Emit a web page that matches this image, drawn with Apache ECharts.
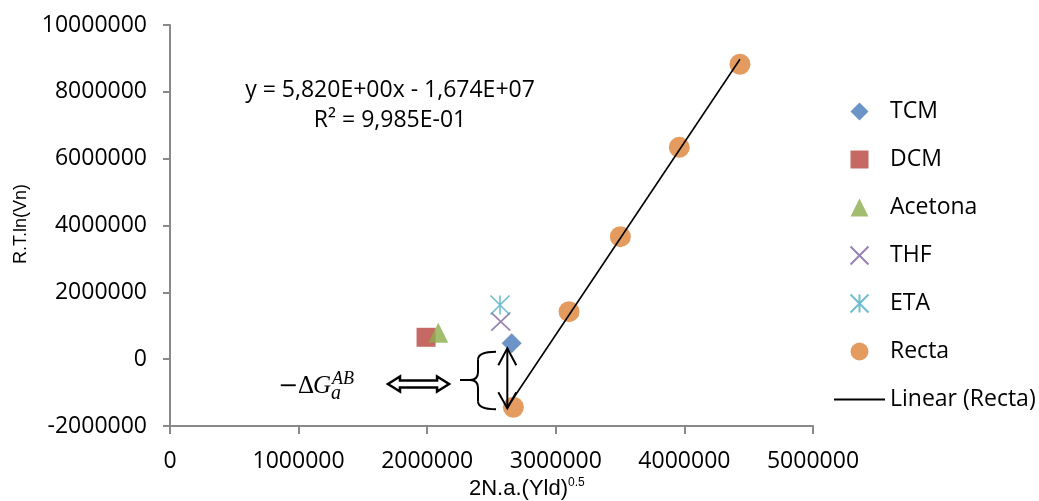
<!DOCTYPE html>
<html>
<head>
<meta charset="utf-8">
<script src="https://cdn.jsdelivr.net/npm/echarts@6/dist/echarts.min.js"></script>
<style>
  html, body { margin: 0; padding: 0; background: #fff; }
  #chart { width: 1039px; height: 501px; }
</style>
</head>
<body>
<div id="chart"></div>
<script>
// Points (x = 2N.a.(Yld)^0.5, y = R.T.ln(Vn))
const tcmX = [2657000];
const tcmY = [476000];
const dcmX = [1991000];
const dcmY = [655000];
const acetonaX = [2086000];
const acetonaY = [793000];
const thfX = [2572000];
const thfY = [1122000];
const etaX = [2566000];
const etaY = [1622000];
const rectaX = [2670000, 3103000, 3502000, 3960000, 4432000];
const rectaY = [-1439000, 1421000, 3665000, 6340000, 8824000];

// Linear trendline ends, as drawn
const trendX = [2618000, 4432000];
const trendY = [-1469000, 8974000];

const eqLines = ['y = 5,820E+00x - 1,674E+07', 'R² = 9,985E-01'];

// Hand-drawn annotation anchors, in data units
const eqAnchor = [1711000, 8052000];
const vArrow = [2623000, 326000, -1469000];           // x, top, bottom
const braceX = [2255000, 2395000, 2535000];           // tip, spine, ends
const braceY = [224000, -623000, -1499000];           // top, middle, bottom
const dblArrowX = [1695000, 2170000];
const dblArrowY = -742000;
const labelAnchor = [855000, -1041000];

const C = {
  tcm: '#4779B8', dcm: '#B8443F', acetona: '#8CAD4C',
  thf: '#7E63A0', eta: '#4BACC6', recta: '#DD8237',
  axis: '#898989', text: '#000'
};
const SANS = '"Open Sans", sans-serif';

// marker shapes as paths so the legend keeps their aspect
const SYM = {
  diamond: 'path://M5,0L10,5L5,10L0,5Z',
  square: 'path://M0,0L10,0L10,10L0,10Z',
  triangle: 'path://M5,0L10,10L0,10Z',
  circle: 'path://M0,5A5,5 0 1,1 10,5A5,5 0 1,1 0,5Z',
  cross: 'path://M0,0L10,10M10,0L0,10',
  star: 'path://M0,0L10,10M10,0L0,10M5,0L5,10'
};

const zip = (xs, ys) => xs.map((x, i) => [x, ys[i]]);

const chart = echarts.init(document.getElementById('chart'), null, { renderer: 'canvas' });

const option = {
  backgroundColor: '#fff',
  animation: false,
  grid: { left: 170, right: 226, top: 25, bottom: 75 },
  legend: {
    orient: 'vertical',
    left: 833,
    top: 100,
    padding: 0,
    itemWidth: 51,
    itemHeight: 18,
    itemGap: 25,
    symbolKeepAspect: true,
    textStyle: { fontFamily: SANS, fontSize: 23, color: C.text },
    data: ['TCM', 'DCM', 'Acetona', 'THF', 'ETA', 'Recta',
      { name: 'Linear (Recta)', itemStyle: { opacity: 0 } }]
  },
  xAxis: {
    type: 'value', min: 0, max: 5000000, interval: 1000000,
    axisLine: { show: true, onZero: false, lineStyle: { color: C.axis, width: 2 } },
    axisTick: { show: true, length: 8, lineStyle: { color: C.axis, width: 2 } },
    axisLabel: { margin: 24, fontFamily: SANS, fontSize: 23, color: C.text, formatter: v => String(v) },
    splitLine: { show: false }
  },
  yAxis: {
    type: 'value', min: -2000000, max: 10000000, interval: 2000000,
    axisLine: { show: true, onZero: false, lineStyle: { color: C.axis, width: 2 } },
    axisTick: { show: true, length: 7, lineStyle: { color: C.axis, width: 2 } },
    axisLabel: { margin: 23, fontFamily: SANS, fontSize: 23, color: C.text, padding: [3, 0, 0, 0],
      formatter: v => String(v) },
    splitLine: { show: false }
  },
  series: [
    { name: 'TCM', type: 'scatter', data: zip(tcmX, tcmY), symbol: SYM.diamond, symbolSize: 20,
      symbolKeepAspect: true, itemStyle: { color: C.tcm } },
    { name: 'DCM', type: 'scatter', data: zip(dcmX, dcmY), symbol: SYM.square, symbolSize: 19,
      symbolKeepAspect: true, itemStyle: { color: C.dcm } },
    { name: 'Acetona', type: 'scatter', data: zip(acetonaX, acetonaY), symbol: SYM.triangle, symbolSize: 20,
      symbolKeepAspect: true, itemStyle: { color: C.acetona } },
    { name: 'THF', type: 'scatter', data: zip(thfX, thfY), symbol: SYM.cross, symbolSize: [19, 18],
      symbolKeepAspect: true,
      itemStyle: { color: 'rgba(0,0,0,0)', borderColor: C.thf, borderWidth: 1.6 } },
    { name: 'ETA', type: 'scatter', data: zip(etaX, etaY), symbol: SYM.star, symbolSize: [19, 19],
      symbolKeepAspect: true,
      itemStyle: { color: 'rgba(0,0,0,0)', borderColor: C.eta, borderWidth: 1.6 } },
    { name: 'Recta', type: 'scatter', data: zip(rectaX, rectaY), symbol: SYM.circle, symbolSize: 21,
      symbolKeepAspect: true, itemStyle: { color: C.recta } },
    { name: 'Linear (Recta)', type: 'line', data: zip(trendX, trendY), symbol: 'none', z: 5,
      color: '#000', lineStyle: { color: '#000', width: 1.6 } }
  ]
};

chart.setOption(option);

// annotations: placed from data anchors through the chart's own scales
const px = (x, y) => chart.convertToPixel({ xAxisIndex: 0, yAxisIndex: 0 }, [x, y]);
const ink = { stroke: '#000', lineWidth: 2, fill: null };
const graphic = [];

// trendline equation and R²
const eq = px(eqAnchor[0], eqAnchor[1]);
eqLines.forEach((t, i) => {
  graphic.push({ type: 'text', x: eq[0], y: eq[1] + i * 30, z: 100,
    style: { text: t, fontFamily: SANS, fontSize: 23, fill: C.text, align: 'center', verticalAlign: 'middle' } });
});

// vertical double arrow between TCM and the line
const aTop = px(vArrow[0], vArrow[1]);
const aBot = px(vArrow[0], vArrow[2]);
graphic.push(
  { type: 'line', z: 100, shape: { x1: aTop[0], y1: aTop[1], x2: aBot[0], y2: aBot[1] }, style: ink },
  { type: 'polyline', z: 100, shape: { points: [[aTop[0] - 9, aTop[1] + 17], [aTop[0], aTop[1]], [aTop[0] + 9, aTop[1] + 17]] }, style: ink },
  { type: 'polyline', z: 100, shape: { points: [[aBot[0] - 9, aBot[1] - 16], [aBot[0], aBot[1]], [aBot[0] + 9, aBot[1] - 16]] }, style: ink }
);

// curly brace
const bt = px(braceX[2], braceY[0]);
const bm = px(braceX[1], braceY[1]);
const bb = px(braceX[2], braceY[2]);
const tip = px(braceX[0], braceY[1])[0];
const xl = bm[0], xr = bt[0], r = 8;
graphic.push(
  { type: 'bezierCurve', z: 100, shape: { x1: xr, y1: bt[1], cpx1: xl, cpy1: bt[1], x2: xl, y2: bt[1] + r }, style: ink },
  { type: 'line', z: 100, shape: { x1: xl, y1: bt[1] + r, x2: xl, y2: bm[1] - r }, style: ink },
  { type: 'bezierCurve', z: 100, shape: { x1: xl, y1: bm[1] - r, cpx1: xl, cpy1: bm[1], x2: xl - r, y2: bm[1] }, style: ink },
  { type: 'line', z: 100, shape: { x1: xl - r, y1: bm[1], x2: tip, y2: bm[1] }, style: ink },
  { type: 'bezierCurve', z: 100, shape: { x1: xl - r, y1: bm[1], cpx1: xl, cpy1: bm[1], x2: xl, y2: bm[1] + r }, style: ink },
  { type: 'line', z: 100, shape: { x1: xl, y1: bm[1] + r, x2: xl, y2: bb[1] - r }, style: ink },
  { type: 'bezierCurve', z: 100, shape: { x1: xl, y1: bb[1] - r, cpx1: xl, cpy1: bb[1], x2: xr, y2: bb[1] }, style: ink }
);

// hollow double arrow
const d0 = px(dblArrowX[0], dblArrowY);
const d1 = px(dblArrowX[1], dblArrowY);
const yc = d0[1], h = 12, H = 7.5, s = 3.5;
graphic.push({ type: 'polygon', z: 100,
  shape: { points: [
    [d0[0], yc], [d0[0] + h, yc - H], [d0[0] + h, yc - s], [d1[0] - h, yc - s], [d1[0] - h, yc - H],
    [d1[0], yc], [d1[0] - h, yc + H], [d1[0] - h, yc + s], [d0[0] + h, yc + s], [d0[0] + h, yc + H]
  ] },
  style: { fill: '#fff', stroke: '#000', lineWidth: 2.5 } });

// −ΔG_a^AB label
const la = px(labelAnchor[0], labelAnchor[1]);
const SERIF = '"Liberation Serif", "DejaVu Serif", serif';
const mid = (base, fs) => base - 0.305 * fs;
graphic.push(
  { type: 'text', z: 100, x: la[0] - 2, y: mid(la[1], 25),
    style: { text: '−', fontFamily: '"DejaVu Serif", serif', fontSize: 24, fill: '#000', verticalAlign: 'middle' } },
  { type: 'text', z: 100, x: la[0] + 18, y: mid(la[1], 25),
    style: { text: 'Δ', fontFamily: SERIF, fontSize: 25, fill: '#000', verticalAlign: 'middle' } },
  { type: 'text', z: 100, x: la[0] + 33, y: mid(la[1], 25),
    style: { text: 'G', fontFamily: SERIF, fontStyle: 'italic', fontSize: 25, fill: '#000', verticalAlign: 'middle' } },
  { type: 'text', z: 100, x: la[0] + 52, y: mid(la[1] - 9, 18),
    style: { text: 'AB', fontFamily: SERIF, fontStyle: 'italic', fontSize: 18, fill: '#000', verticalAlign: 'middle' } },
  { type: 'text', z: 100, x: la[0] + 51, y: mid(la[1] + 6, 20),
    style: { text: 'a', fontFamily: SERIF, fontStyle: 'italic', fontSize: 20, fill: '#000', verticalAlign: 'middle' } }
);

// axis titles
const ARIAL = '"Liberation Sans", Arial, sans-serif';
graphic.push(
  { type: 'text', z: 100, x: 469, y: 489,
    style: { text: '2N.a.(Yld)', fontFamily: ARIAL, fontSize: 22, fill: '#000', verticalAlign: 'middle' } },
  { type: 'text', z: 100, x: 568, y: 483,
    style: { text: '0.5', fontFamily: ARIAL, fontSize: 12, fill: '#000', verticalAlign: 'middle' } },
  { type: 'text', z: 100, x: 21, y: 224, rotation: Math.PI / 2,
    style: { text: 'R.T.ln(Vn)', fontFamily: ARIAL, fontSize: 18, fill: '#000', align: 'center', verticalAlign: 'middle' } }
);

chart.setOption({ graphic: graphic });
</script>
</body>
</html>
